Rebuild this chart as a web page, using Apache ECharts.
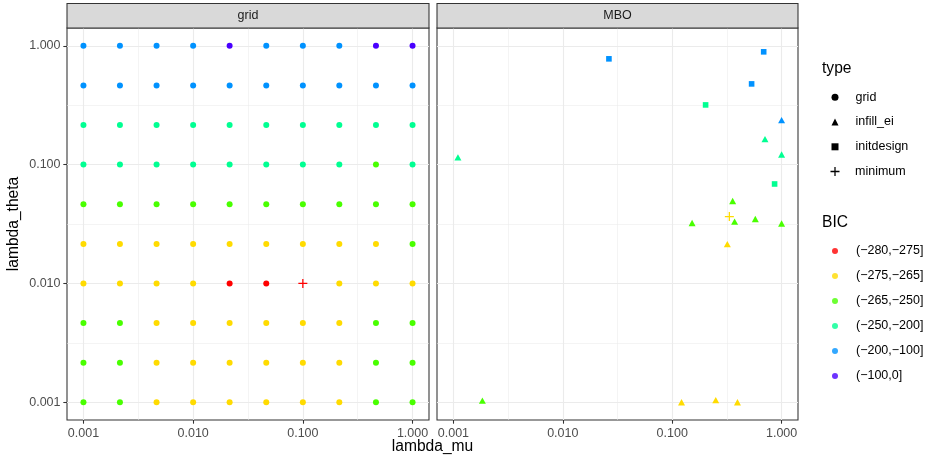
<!DOCTYPE html>
<html><head><meta charset="utf-8">
<script src="https://cdn.jsdelivr.net/npm/echarts@6/dist/echarts.min.js"></script>
<style>html,body{margin:0;padding:0;background:#fff}#c{width:928px;height:462px}</style>
</head><body><div id="c"></div>
<script>
// ---------------- data ----------------
const typeLevels = ['grid', 'infill_ei', 'initdesign', 'minimum'];
const bicLevels = ['(\u2212280,\u2212275]', '(\u2212275,\u2212265]', '(\u2212265,\u2212250]', '(\u2212250,\u2212200]', '(\u2212200,\u2212100]', '(\u2212100,0]'];
const bicColors = ['#FF0000', '#FFDB00', '#49FF00', '#00FF92', '#0092FF', '#4900FF'];

// grid panel: 10 x 10 design
const gridMu    = [0.001, 0.00215, 0.00464, 0.01, 0.0215, 0.0464, 0.1, 0.215, 0.464, 1.0];
const gridTheta = [0.001, 0.00215, 0.00464, 0.01, 0.0215, 0.0464, 0.1, 0.215, 0.464, 1.0];
// BIC class index (into bicLevels), one row per gridTheta value, columns follow gridMu
const gridBic = [
  [2, 2, 1, 1, 1, 1, 1, 1, 2, 2],
  [2, 2, 1, 1, 1, 1, 1, 1, 2, 2],
  [2, 2, 1, 1, 1, 1, 1, 1, 2, 2],
  [1, 1, 1, 1, 0, 0, 0, 1, 1, 1],
  [1, 1, 1, 1, 1, 1, 1, 1, 1, 2],
  [2, 2, 2, 2, 2, 2, 2, 2, 2, 2],
  [3, 3, 3, 3, 3, 3, 3, 3, 2, 3],
  [3, 3, 3, 3, 3, 3, 3, 3, 3, 3],
  [4, 4, 4, 4, 4, 4, 4, 4, 4, 4],
  [4, 4, 4, 4, 5, 4, 4, 4, 5, 5]
];
const gridMinMu = [0.1];
const gridMinTheta = [0.01];
const gridMinBic = [0];

// MBO panel
const mboMu    = [0.0264, 0.686, 0.532, 0.202, 0.863,
                  1.0, 0.705, 0.0011, 1.0, 0.357, 0.152, 0.372, 0.575, 1.0, 0.319, 0.00184, 0.1217, 0.250, 0.395,
                  0.333];
const mboTheta = [0.777, 0.890, 0.478, 0.318, 0.0687,
                  0.237, 0.164, 0.115, 0.1216, 0.0494, 0.0322, 0.0331, 0.0348, 0.0319, 0.0214, 0.00103, 0.001, 0.00104, 0.001,
                  0.0365];
const mboBic   = [4, 4, 4, 3, 3,
                  4, 3, 3, 3, 2, 2, 2, 2, 2, 1, 2, 1, 1, 1,
                  1];
const mboType  = ['initdesign', 'initdesign', 'initdesign', 'initdesign', 'initdesign',
                  'infill_ei', 'infill_ei', 'infill_ei', 'infill_ei', 'infill_ei', 'infill_ei', 'infill_ei', 'infill_ei', 'infill_ei', 'infill_ei', 'infill_ei', 'infill_ei', 'infill_ei', 'infill_ei',
                  'minimum'];

const tickValues = [0.001, 0.01, 0.1, 1];
const tickLabels = ['0.001', '0.010', '0.100', '1.000'];

// ---------------- build ----------------
const L = Math.log10;
const FONT = '"Liberation Sans", Arial, Helvetica, sans-serif';
const SMALL = 12.5, BIG = 15.6;
const logTicks = tickValues.map(L);
const minorTicks = [];
for (let i = 0; i < logTicks.length - 1; i++) minorTicks.push((logTicks[i] + logTicks[i + 1]) / 2);

const allMu = gridMu.concat(mboMu), allTheta = gridTheta.concat(mboTheta);
function expRange(arr) {
  const lo = Math.min(...arr.map(L)), hi = Math.max(...arr.map(L));
  const pad = (hi - lo) * 0.05;
  return [lo - pad, hi + pad];
}
const xr = expRange(allMu), yr = expRange(allTheta);

const symbols = {
  grid: 'circle',
  infill_ei: 'triangle',
  initdesign: 'rect',
  minimum: 'path://M4.3,0H5.7V4.3H10V5.7H5.7V10H4.3V5.7H0V4.3H4.3Z'
};
const sizes = { grid: 6, infill_ei: [7, 6.4], initdesign: 5.6, minimum: 9 };

function tickLabel(v) {
  for (let k = 0; k < logTicks.length; k++) if (Math.abs(logTicks[k] - v) < 1e-6) return tickLabels[k];
  return '';
}

const gridPts = [], gridMinPts = [];
gridTheta.forEach((t, i) => gridMu.forEach((m, j) => {
  if (gridMinMu.includes(m) && gridMinTheta[gridMinMu.indexOf(m)] === t) return;
  gridPts.push({ value: [L(m), L(t)], itemStyle: { color: bicColors[gridBic[i][j]] } });
}));
gridMinMu.forEach((m, k) => gridMinPts.push({ value: [L(m), L(gridMinTheta[k])], itemStyle: { color: bicColors[gridMinBic[k]] } }));

const mboPts = { infill_ei: [], initdesign: [], minimum: [] };
mboMu.forEach((m, k) => mboPts[mboType[k]].push({ value: [L(m), L(mboTheta[k])], itemStyle: { color: bicColors[mboBic[k]] } }));

function mkSeries(name, g, data) {
  return { name, type: 'scatter', xAxisIndex: g, yAxisIndex: g, symbol: symbols[name], symbolSize: sizes[name],
    itemStyle: { color: '#000', opacity: 1 }, data, emphasis: { disabled: true }, animation: false, clip: false };
}
const series = [
  mkSeries('grid', 0, gridPts),
  mkSeries('minimum', 0, gridMinPts),
  mkSeries('initdesign', 1, mboPts.initdesign),
  mkSeries('infill_ei', 1, mboPts.infill_ei),
  mkSeries('minimum', 1, mboPts.minimum)
];
bicLevels.forEach((b, i) => series.push({ name: b, type: 'scatter', xAxisIndex: 0, yAxisIndex: 0, symbol: 'circle',
  itemStyle: { color: bicColors[i] }, data: [] }));

const gridLine = { color: '#EBEBEB', width: 1.1 };
const minorLine = { color: '#EBEBEB', width: 0.55 };
const tickStyle = { color: '#333333', width: 1.07 };
const labelStyle = { color: '#4D4D4D', fontSize: SMALL, fontFamily: FONT };

function axis(g, range, isX, showLabels) {
  return { type: 'value', gridIndex: g, min: range[0], max: range[1],
    position: isX ? 'bottom' : 'left',
    axisLine: { show: false, onZero: false },
    axisTick: { show: showLabels, customValues: logTicks, length: 3.7, lineStyle: tickStyle },
    axisLabel: { show: showLabels, customValues: logTicks, formatter: tickLabel, margin: isX ? 7 : 6.5, ...labelStyle },
    splitLine: { show: true, lineStyle: gridLine } };
}
function minorAxis(g, range, isX) {
  return { type: 'value', gridIndex: g, min: range[0], max: range[1],
    position: isX ? 'bottom' : 'left',
    axisLine: { show: false, onZero: false },
    axisTick: { show: false, customValues: minorTicks },
    axisLabel: { show: false, customValues: minorTicks },
    splitLine: { show: true, lineStyle: minorLine } };
}

const legendBase = { orient: 'vertical', selectedMode: false, itemGap: 10.8, padding: 0,
  textStyle: { color: '#000', fontSize: SMALL, fontFamily: FONT, lineHeight: 14, padding: [0, 0, 0, 12] } };

const strip = (x, w, txt) => [
  { type: 'rect', shape: { x: x, y: 3.5, width: w, height: 24.5 }, style: { fill: '#D9D9D9', stroke: '#333333', lineWidth: 1.07 }, z: 10 },
  { type: 'text', x: x + w / 2, y: 16, style: { text: txt, fill: '#1A1A1A', fontSize: SMALL, fontFamily: FONT, align: 'center', verticalAlign: 'middle' }, z: 11 }
];

const option = {
  backgroundColor: '#fff',
  animation: false,
  grid: [
    { left: 67, top: 28, width: 362, height: 392, show: true, borderColor: '#333333', borderWidth: 1.07, backgroundColor: '#fff', containLabel: false, outerBoundsMode: 'none' },
    { left: 437, top: 28, width: 361, height: 392, show: true, borderColor: '#333333', borderWidth: 1.07, backgroundColor: '#fff', containLabel: false, outerBoundsMode: 'none' }
  ],
  xAxis: [axis(0, xr, true, true), axis(1, xr, true, true), minorAxis(0, xr, true), minorAxis(1, xr, true)],
  yAxis: [axis(0, yr, false, true), axis(1, yr, false, false), minorAxis(0, yr, false), minorAxis(1, yr, false)],
  legend: [
    { ...legendBase, data: ['grid', 'infill_ei', 'initdesign'], left: 831.5, top: 90.2, itemWidth: 7, itemHeight: 7 },
    { ...legendBase, data: ['minimum'], left: 830.5, top: 164.5, itemWidth: 9, itemHeight: 9,
      textStyle: { ...legendBase.textStyle, padding: [0, 0, 0, 10.5] } },
    { ...legendBase, data: bicLevels, left: 832, top: 244, itemWidth: 6, itemHeight: 6, itemGap: 11,
      textStyle: { ...legendBase.textStyle, padding: [0, 0, 0, 13] } }
  ],
  graphic: [
    ...strip(67, 362, 'grid'),
    ...strip(437, 361, 'MBO'),
    { type: 'text', x: 432.5, y: 447, style: { text: 'lambda_mu', fill: '#000', fontSize: BIG, fontFamily: FONT, align: 'center', verticalAlign: 'middle' } },
    { type: 'text', x: 14, y: 224, rotation: Math.PI / 2, style: { text: 'lambda_theta', fill: '#000', fontSize: BIG, fontFamily: FONT, align: 'center', verticalAlign: 'middle' } },
    { type: 'text', x: 822, y: 68.5, style: { text: 'type', fill: '#000', fontSize: BIG, fontFamily: FONT, align: 'left', verticalAlign: 'middle' } },
    { type: 'text', x: 822, y: 223, style: { text: 'BIC', fill: '#000', fontSize: BIG, fontFamily: FONT, align: 'left', verticalAlign: 'middle' } }
  ],
  series
};
const chart = echarts.init(document.getElementById('c'), null, { renderer: 'canvas' });
chart.setOption(option);
</script>
</body></html>
